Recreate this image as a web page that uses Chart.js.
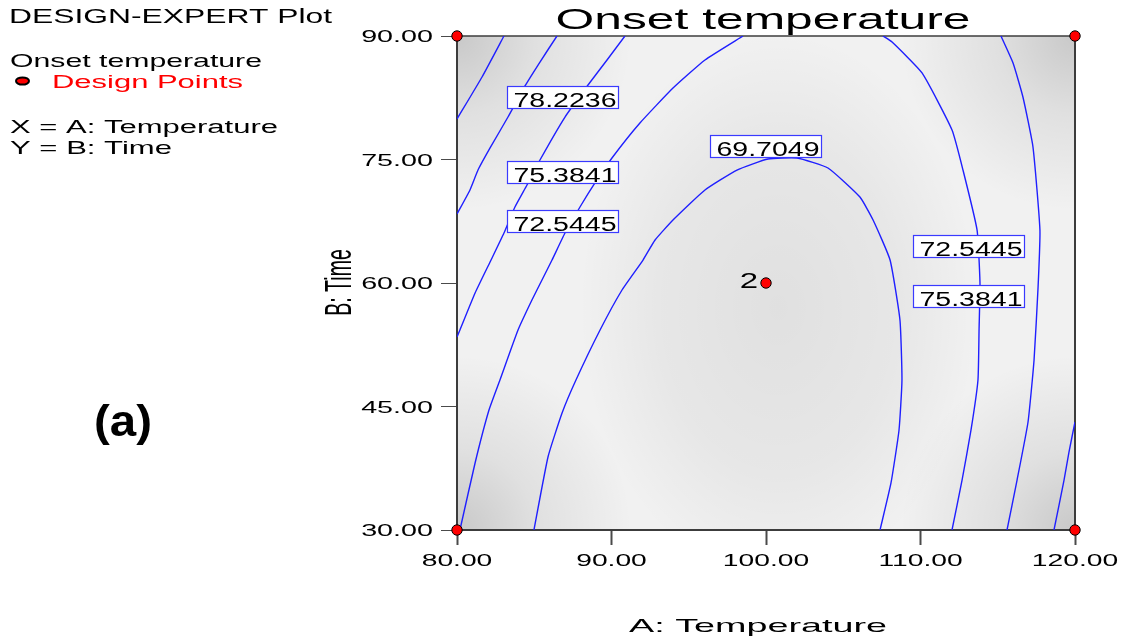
<!DOCTYPE html>
<html>
<head>
<meta charset="utf-8">
<title>Onset temperature</title>
<script src="https://cdn.jsdelivr.net/npm/chart.js@4.4.1/dist/chart.umd.min.js"></script>
<style>
  html, body { margin: 0; padding: 0; background: #ffffff; }
  canvas { display: block; }
</style>
</head>
<body>
<canvas id="plot" width="1124" height="640"></canvas>
<script>
// ---- axes ----
const xTicks = [80, 90, 100, 110, 120];
const yTicks = [30, 45, 60, 75, 90];

// ---- contour levels of the response (Onset temperature) ----
const contourLevels = [69.7049, 72.5445, 75.3841, 78.2236, 81.0632];

// ---- contour paths, [A: Temperature, B: Time] ----
const level81Path = [[83.04, 90], [81.62, 85.02], [80, 79.92]];
const level78LeftPath = [[86.47, 90], [85.37, 86.84], [84.40, 83.93], [83.30, 80.16], [82.14, 76.40],
  [81.36, 73.72], [80.84, 71.30], [80, 68.38]];
const level78RightPath = [[120, 43.12], [119.61, 39.47], [119.29, 36.07], [118.64, 30]];
const level75LeftPath = [[90.87, 90], [89.71, 87.09], [88.48, 84.05], [86.99, 80.16], [85.37, 74.94],
  [84.53, 71.90], [83.75, 69.23], [83.04, 66.07], [82.14, 62.55], [81.17, 58.78], [80.19, 54.29], [80, 53.44]];
const level75RightPath = [[115.21, 90], [115.99, 86.72], [116.63, 82.59], [117.28, 76.52], [117.73, 66.44],
  [117.61, 59.51], [117.35, 50.65], [116.96, 43.12], [116.25, 36.07], [115.60, 30]];
const level72LeftPath = [[80.19, 30], [81.17, 38.14], [82.07, 44.57], [82.78, 48.22], [83.95, 54.29],
  [84.85, 57.93], [85.50, 60.36], [86.15, 62.79], [86.99, 66.07], [87.96, 69.23], [88.93, 72.15],
  [90.03, 75.18], [91.84, 79.43], [93.98, 83.68], [96.05, 87.09], [98.51, 90]];
const level72RightPath = [[107.57, 90], [108.16, 89.27], [110.10, 85.51], [112.04, 78.58], [112.75, 73.72],
  [113.66, 66.44], [113.85, 60.00], [113.79, 54.29], [113.72, 48.22], [113.27, 42.15], [112.69, 36.07], [112.04, 30]];
const level69Path = [[84.98, 30], [85.89, 38.87], [86.80, 44.21], [87.70, 48.22], [89.26, 54.29],
  [90.68, 59.15], [92.04, 62.79], [92.82, 65.22], [93.98, 67.65], [96.05, 71.30], [98.12, 73.72],
  [100.13, 75.06], [102.01, 75.18], [104.01, 73.97], [106.08, 70.44], [106.93, 67.65], [108.03, 62.79],
  [108.67, 55.50], [108.80, 48.22], [108.61, 42.15], [108.09, 35.71], [107.38, 30]];

// ---- contour value labels ----
const labelLevels = [78.2236, 75.3841, 72.5445, 69.7049, 72.5445, 75.3841];
const labelX = [86.83, 86.83, 86.83, 99.94, 113.11, 113.11];
const labelY = [82.59, 73.54, 67.53, 76.64, 64.55, 58.48];

// ---- design points ----
const designX = [80, 80, 120, 120, 100];
const designY = [30, 90, 30, 90, 60];
const designRuns = [1, 1, 1, 1, 2];

// ---------------------------------------------------------------
const FONT = '"Liberation Sans", Arial, Helvetica, sans-serif';
const LINE_BLUE = '#1f1fff';

const contourPaths = [
  [contourLevels[4], level81Path],
  [contourLevels[3], level78LeftPath],
  [contourLevels[3], level78RightPath],
  [contourLevels[2], level75LeftPath],
  [contourLevels[2], level75RightPath],
  [contourLevels[1], level72LeftPath],
  [contourLevels[1], level72RightPath],
  [contourLevels[0], level69Path]
];

const datasets = [{
  label: 'Design Points',
  data: designX.map((x, i) => ({ x, y: designY[i] })),
  showLine: false,
  pointRadius: 5.2,
  pointHoverRadius: 5.2,
  pointBackgroundColor: '#ff0000',
  pointBorderColor: '#000000',
  pointBorderWidth: 1,
  clip: false
}];
contourPaths.forEach(([level, path]) => {
  datasets.push({
    label: level.toFixed(4),
    data: path.map(p => ({ x: p[0], y: p[1] })),
    showLine: true,
    borderColor: LINE_BLUE,
    borderWidth: 1.4,
    pointRadius: 0,
    tension: 0.15,
    fill: false
  });
});

// draws text stretched horizontally to a given width
function stretchText(ctx, text, x, y, size, opts) {
  opts = opts || {};
  ctx.save();
  ctx.font = (opts.weight || 'normal') + ' ' + size + 'px ' + FONT;
  ctx.fillStyle = opts.color || '#000000';
  ctx.textBaseline = 'alphabetic';
  ctx.textAlign = opts.align || 'left';
  let sx = opts.sx || 1;
  if (opts.width) sx = opts.width / ctx.measureText(text).width;
  ctx.translate(x, y);
  ctx.scale(sx, 1);
  if (opts.rotate) ctx.rotate(opts.rotate);
  ctx.fillText(text, 0, opts.dy || 0);
  ctx.restore();
}

const shading = {
  id: 'shading',
  beforeDraw(chart) {
    const { ctx, chartArea: a } = chart;
    ctx.save();
    ctx.beginPath();
    ctx.rect(a.left, a.top, a.width, a.height);
    ctx.clip();
    ctx.fillStyle = '#f1f1f1';
    ctx.fillRect(a.left, a.top, a.width, a.height);
    // darker basin round the minimum
    const cx = a.left + a.width * 0.52, cy = a.top + a.height * 0.55;
    ctx.save();
    ctx.translate(cx, cy);
    ctx.scale(1.05, 1.45);
    const g = ctx.createRadialGradient(0, 0, 0, 0, 0, 190);
    g.addColorStop(0, 'rgba(0,0,0,0.07)');
    g.addColorStop(0.6, 'rgba(0,0,0,0.045)');
    g.addColorStop(1, 'rgba(0,0,0,0)');
    ctx.fillStyle = g;
    ctx.fillRect(-500, -500, 1000, 1000);
    ctx.restore();
    // darker corners
    [[a.left, a.top], [a.right, a.top], [a.left, a.bottom], [a.right, a.bottom]].forEach(([px, py]) => {
      const c = ctx.createRadialGradient(px, py, 0, px, py, 175);
      c.addColorStop(0, 'rgba(0,0,0,0.17)');
      c.addColorStop(0.45, 'rgba(0,0,0,0.07)');
      c.addColorStop(1, 'rgba(0,0,0,0)');
      ctx.fillStyle = c;
      ctx.fillRect(a.left, a.top, a.width, a.height);
    });
    ctx.restore();
  },
  beforeDatasetsDraw(chart) {
    const { ctx, chartArea: a } = chart;
    ctx.save();
    ctx.strokeStyle = '#3c3c3c';
    ctx.lineWidth = 1.5;
    ctx.beginPath();
    ctx.moveTo(a.left, a.top);
    ctx.lineTo(a.right, a.top);
    ctx.stroke();
    ctx.lineWidth = 2;
    ctx.beginPath();
    ctx.moveTo(a.right, a.top);
    ctx.lineTo(a.right, a.bottom);
    ctx.stroke();
    ctx.restore();
  }
};

const annotations = {
  id: 'annotations',
  afterDatasetsDraw(chart) {
    const { ctx } = chart;
    const xs = chart.scales.x, ys = chart.scales.y;
    const bw = 111, bh = 22;
    labelLevels.forEach((v, i) => {
      const cx = xs.getPixelForValue(labelX[i]);
      const cy = ys.getPixelForValue(labelY[i]);
      const left = Math.round(cx - bw / 2) + 0.5, top = Math.round(cy - bh / 2) + 0.5;
      ctx.save();
      ctx.fillStyle = '#ffffff';
      ctx.fillRect(left, top, bw, bh);
      ctx.strokeStyle = '#3a3aff';
      ctx.lineWidth = 1.2;
      ctx.strokeRect(left, top, bw, bh);
      ctx.restore();
      stretchText(ctx, v.toFixed(4), left + 6, top + 20.5, 19.5, { width: 103 });
    });
    // replicate count beside a design point
    designRuns.forEach((n, i) => {
      if (n > 1) {
        const px = xs.getPixelForValue(designX[i]);
        const py = ys.getPixelForValue(designY[i]);
        stretchText(ctx, String(n), px - 8, py + 5, 22, { align: 'right', sx: 1.5 });
      }
    });
  },
  afterDraw(chart) {
    const { ctx, chartArea: a } = chart;
    const xs = chart.scales.x, ys = chart.scales.y;

    // tick labels
    ys.ticks.forEach(t => {
      const py = ys.getPixelForValue(t.value);
      stretchText(ctx, t.value.toFixed(2), a.left - 24, py + 6, 16.5, { align: 'right', sx: 1.74 });
    });
    xs.ticks.forEach(t => {
      const px = xs.getPixelForValue(t.value);
      stretchText(ctx, t.value.toFixed(2), px, 566, 17, { align: 'center', sx: 1.66 });
    });

    // titles
    stretchText(ctx, 'Onset temperature', (a.left + a.right) / 2 - 3, 29, 29, { align: 'center', width: 415 });
    stretchText(ctx, 'A: Temperature', 758, 632, 19, { align: 'center', width: 258 });
    stretchText(ctx, 'B: Time', 338, 282.5, 19.5, { align: 'center', sx: 1.85, rotate: -Math.PI / 2, dy: 7 });

    // side legend
    stretchText(ctx, 'DESIGN-EXPERT Plot', 9, 23, 20, { width: 323 });
    stretchText(ctx, 'Onset temperature', 10, 67, 18.5, { width: 252 });
    ctx.save();
    ctx.beginPath();
    ctx.ellipse(22.5, 81, 6.5, 3.6, 0, 0, Math.PI * 2);
    ctx.fillStyle = '#ff0000';
    ctx.fill();
    ctx.lineWidth = 2;
    ctx.strokeStyle = '#000000';
    ctx.stroke();
    ctx.restore();
    stretchText(ctx, 'Design Points', 52, 88, 18, { width: 191, color: '#ff0000' });
    stretchText(ctx, 'X = A: Temperature', 10, 133, 18, { width: 268 });
    stretchText(ctx, 'Y = B: Time', 10, 154, 18.5, { width: 162 });

    // panel tag
    stretchText(ctx, '(a)', 94, 436, 44, { weight: 'bold', width: 58 });
  }
};

new Chart(document.getElementById('plot'), {
  type: 'scatter',
  data: { datasets },
  options: {
    responsive: false,
    maintainAspectRatio: false,
    animation: false,
    devicePixelRatio: 1,
    events: [],
    layout: { padding: { top: 36, right: 49, left: 0, bottom: 0 } },
    plugins: {
      legend: { display: false },
      title: { display: false },
      tooltip: { enabled: false }
    },
    scales: {
      x: {
        type: 'linear',
        min: 80,
        max: 120,
        afterBuildTicks: s => { s.ticks = xTicks.map(v => ({ value: v })); },
        afterFit: s => { s.height = 110; },
        ticks: { display: false },
        grid: { drawOnChartArea: false, drawTicks: true, tickLength: 15, tickColor: '#4a4a4a', tickWidth: 2 },
        border: { display: true, color: '#3c3c3c', width: 2 }
      },
      y: {
        type: 'linear',
        min: 30,
        max: 90,
        afterBuildTicks: s => { s.ticks = yTicks.map(v => ({ value: v })); },
        afterFit: s => { s.width = 457; },
        ticks: { display: false },
        grid: { drawOnChartArea: false, drawTicks: true, tickLength: 16, tickColor: '#4a4a4a', tickWidth: 1 },
        border: { display: true, color: '#3c3c3c', width: 2 }
      }
    }
  },
  plugins: [shading, annotations]
});
</script>
</body>
</html>
